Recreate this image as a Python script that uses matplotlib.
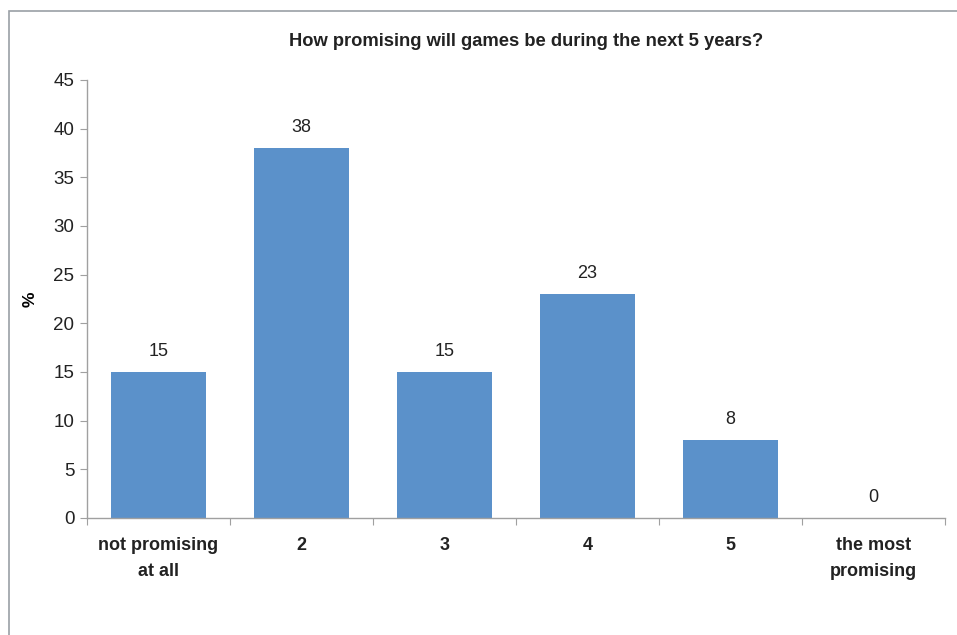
import numpy as np
import matplotlib.pyplot as plt
from matplotlib.patches import Rectangle

categories = ['not promising\nat all', '2', '3', '4', '5', 'the most\npromising']
percent = [15, 38, 15, 23, 8, 0]
yticks = [0, 5, 10, 15, 20, 25, 30, 35, 40, 45]

plt.rcParams['font.family'] = ['Liberation Sans Narrow', 'Liberation Sans', 'DejaVu Sans']

fig = plt.figure(figsize=(9.57, 6.35), dpi=100)
# outer frame (only top and left edges visible)
fig.patches.append(Rectangle((9 / 957, -0.1), 1.2, 1 - 11 / 635 + 0.1,
                             transform=fig.transFigure, fill=False,
                             edgecolor='#9aa0a6', linewidth=1.2))

ax = fig.add_axes([87 / 957, 1 - 518 / 635, 858 / 957, 438 / 635])
x = np.arange(len(categories))
bars = ax.bar(x, percent, width=0.66, color='#5b91ca')

for b, v in zip(bars, percent):
    ax.annotate(str(v), (b.get_x() + b.get_width() / 2, v),
                xytext=(0, 9), textcoords='offset points',
                ha='center', va='bottom', fontsize=13, color='#222222')

ax.set_xlim(-0.5, len(categories) - 0.5)
ax.set_ylim(0, 45)
ax.set_yticks(yticks)
ax.set_yticklabels([str(t) for t in yticks], fontsize=13.5, color='#222222')

# category ticks sit on boundaries, labels in the middle
ax.set_xticks(np.arange(-0.5, len(categories)), minor=False)
ax.set_xticklabels([])
ax.set_xticks(x, minor=True)
ax.set_xticklabels(categories, minor=True, fontsize=13, fontweight='bold',
                   color='#222222', linespacing=1.65)
ax.tick_params(axis='x', which='minor', length=0, pad=14)
ax.tick_params(axis='x', which='major', length=5, color='#a0a0a0', direction='out')
ax.tick_params(axis='y', length=5, color='#a0a0a0', direction='out', pad=4)

for side in ['top', 'right']:
    ax.spines[side].set_visible(False)
for side in ['left', 'bottom']:
    ax.spines[side].set_color('#a0a0a0')
    ax.spines[side].set_linewidth(1.0)

ax.set_ylabel('%', fontsize=12.5, fontweight='bold')
ax.yaxis.set_label_coords(-0.058, 0.5)

fig.text(526 / 957, 1 - 42 / 635, 'How promising will games be during the next 5 years?',
         ha='center', va='center', fontsize=13.2, fontweight='bold', color='#222222')

fig.savefig('out.png', dpi=100)
